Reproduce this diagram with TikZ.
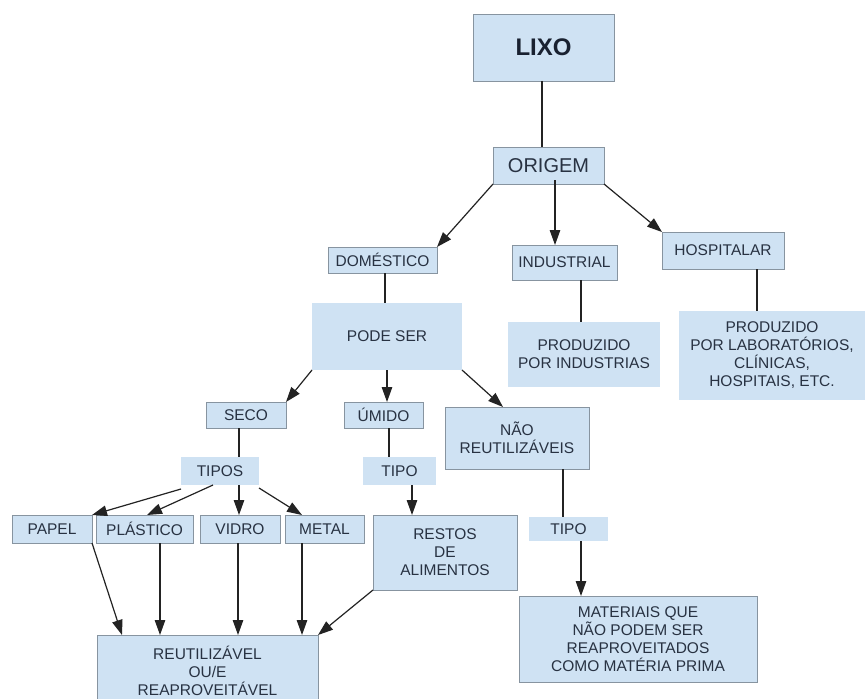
\documentclass[tikz,border=0pt]{standalone}
\usepackage{fontspec}
\setmainfont{Liberation Sans}
\usetikzlibrary{arrows.meta}
\definecolor{boxfill}{RGB}{207,226,243}
\definecolor{boxline}{RGB}{135,148,160}
\definecolor{txt}{RGB}{40,50,66}
\definecolor{conn}{RGB}{35,35,35}
\begin{document}
\begin{tikzpicture}[x=1pt,y=-1pt,
  plain/.style={rectangle,fill=boxfill,inner sep=0pt,outer sep=0pt,align=center,
    text=txt,font=\fontsize{15.5}{18}\selectfont},
  framed/.style={plain,draw=boxline,line width=0.9pt},
  link/.style={draw=conn,line width=1.2pt},
  arr/.style={link,-{Triangle[length=15pt,width=10.5pt]}}]
\useasboundingbox (0,0) rectangle (866,698);
\fill[white] (0,0) rectangle (866,698);
% nodes
\node[framed,minimum width=141,minimum height=67,font=\bfseries\fontsize{24}{28}\selectfont,text={rgb,255:red,25;green,33;blue,48}] (lixo) at (543.5,47.5) {LIXO};
\node[framed,minimum width=111,minimum height=37,font=\fontsize{20}{24}\selectfont] (origem) at (548.5,165.5) {ORIGEM};
\node[framed,minimum width=109,minimum height=26] (dom) at (382.5,260) {DOMÉSTICO};
\node[framed,minimum width=105,minimum height=35] (ind) at (564.5,262.5) {INDUSTRIAL};
\node[framed,minimum width=122,minimum height=37] (hosp) at (723,250.5) {HOSPITALAR};
\node[plain,minimum width=150,minimum height=67] (pode) at (387,336.5) {PODE SER};
\node[plain,minimum width=152,minimum height=65] (prodi) at (584,354.5) {PRODUZIDO\\POR INDUSTRIAS};
\node[plain,minimum width=186,minimum height=89] (prodh) at (772,355.5) {PRODUZIDO\\POR LABORATÓRIOS,\\CLÍNICAS,\\HOSPITAIS, ETC.};
\node[framed,minimum width=80,minimum height=26] (seco) at (246,415) {SECO};
\node[framed,minimum width=79,minimum height=26] (umido) at (383.5,415) {ÚMIDO};
\node[framed,minimum width=144,minimum height=62] (nao) at (517,438) {NÃO\\REUTILIZÁVEIS};
\node[plain,minimum width=78,minimum height=28] (tipos) at (220,471) {TIPOS};
\node[plain,minimum width=73,minimum height=28] (tipoa) at (399.5,471) {TIPO};
\node[framed,minimum width=80,minimum height=28] (papel) at (52,529) {PAPEL};
\node[framed,minimum width=97,minimum height=28] (plas) at (144.5,529) {PLÁSTICO};
\node[framed,minimum width=80,minimum height=28] (vidro) at (240,529) {VIDRO};
\node[framed,minimum width=79,minimum height=28] (metal) at (324.5,529) {METAL};
\node[framed,minimum width=144,minimum height=75] (restos) at (445,552.5) {RESTOS\\DE\\ALIMENTOS};
\node[plain,minimum width=79,minimum height=24] (tipob) at (568.5,529) {TIPO};
\node[framed,minimum width=221,minimum height=72] (reu) at (207.5,671) {REUTILIZÁVEL\\OU/E\\REAPROVEITÁVEL};
\node[framed,minimum width=238,minimum height=86] (mat) at (638,639) {MATERIAIS QUE\\NÃO PODEM SER\\REAPROVEITADOS\\COMO MATÉRIA PRIMA};
% plain links
\draw[link] ([xshift=-1.5]lixo.south) -- ([xshift=-1.5]lixo.south |- origem.north);
\draw[link] ([xshift=2.5]dom.south) -- ([xshift=2.5]dom.south |- pode.north);
\draw[link] ([xshift=-3]prodi.north |- ind.south) -- ([xshift=-3]prodi.north);
\draw[link] ([xshift=34]hosp.south) -- ([xshift=34]hosp.south |- prodh.north);
\draw[link] ([xshift=-7]seco.south) -- ([xshift=-7]seco.south |- tipos.north);
\draw[link] ([xshift=5.5]umido.south) -- ([xshift=5.5]umido.south |- tipoa.north);
\draw[link] ([xshift=-5.5]tipob.north |- nao.south) -- ([xshift=-5.5]tipob.north);
% arrows
\draw[arr] (origem.south west) -- (dom.north east);
\draw[arr] ([xshift=6.5,yshift=4]origem.south) -- ([xshift=6.5]origem.south |- ind.north);
\draw[arr] (origem.south east) -- (hosp.north west);
\draw[arr] (pode.south west) -- (seco.north east);
\draw[arr] (pode.south) -- (pode.south |- umido.north);
\draw[arr] (pode.south east) -- ([xshift=-14]nao.north);
\draw[arr] ([yshift=-4]tipos.south west) -- (papel.north east);
\draw[arr] ([xshift=-7]tipos.south) -- ([xshift=2.5]plas.north);
\draw[arr] ([xshift=19]tipos.south) -- ([xshift=19]tipos.south |- vidro.north);
\draw[arr] ([yshift=-3]tipos.south east) -- ([xshift=-22.5]metal.north);
\draw[arr] ([xshift=12.5]tipoa.south) -- ([xshift=12.5]tipoa.south |- restos.north);
\draw[arr] ([xshift=12.5]tipob.south) -- ([xshift=12.5]tipob.south |- mat.north);
\draw[arr] (papel.south east) -- ([xshift=-85.5]reu.north);
\draw[arr] ([xshift=15.5]plas.south) -- ([xshift=15.5]plas.south |- reu.north);
\draw[arr] ([xshift=-2]vidro.south) -- ([xshift=-2]vidro.south |- reu.north);
\draw[arr] ([xshift=-22.5]metal.south) -- ([xshift=-22.5]metal.south |- reu.north);
\draw[arr] (restos.south west) -- (reu.north east);
\end{tikzpicture}
\end{document}
